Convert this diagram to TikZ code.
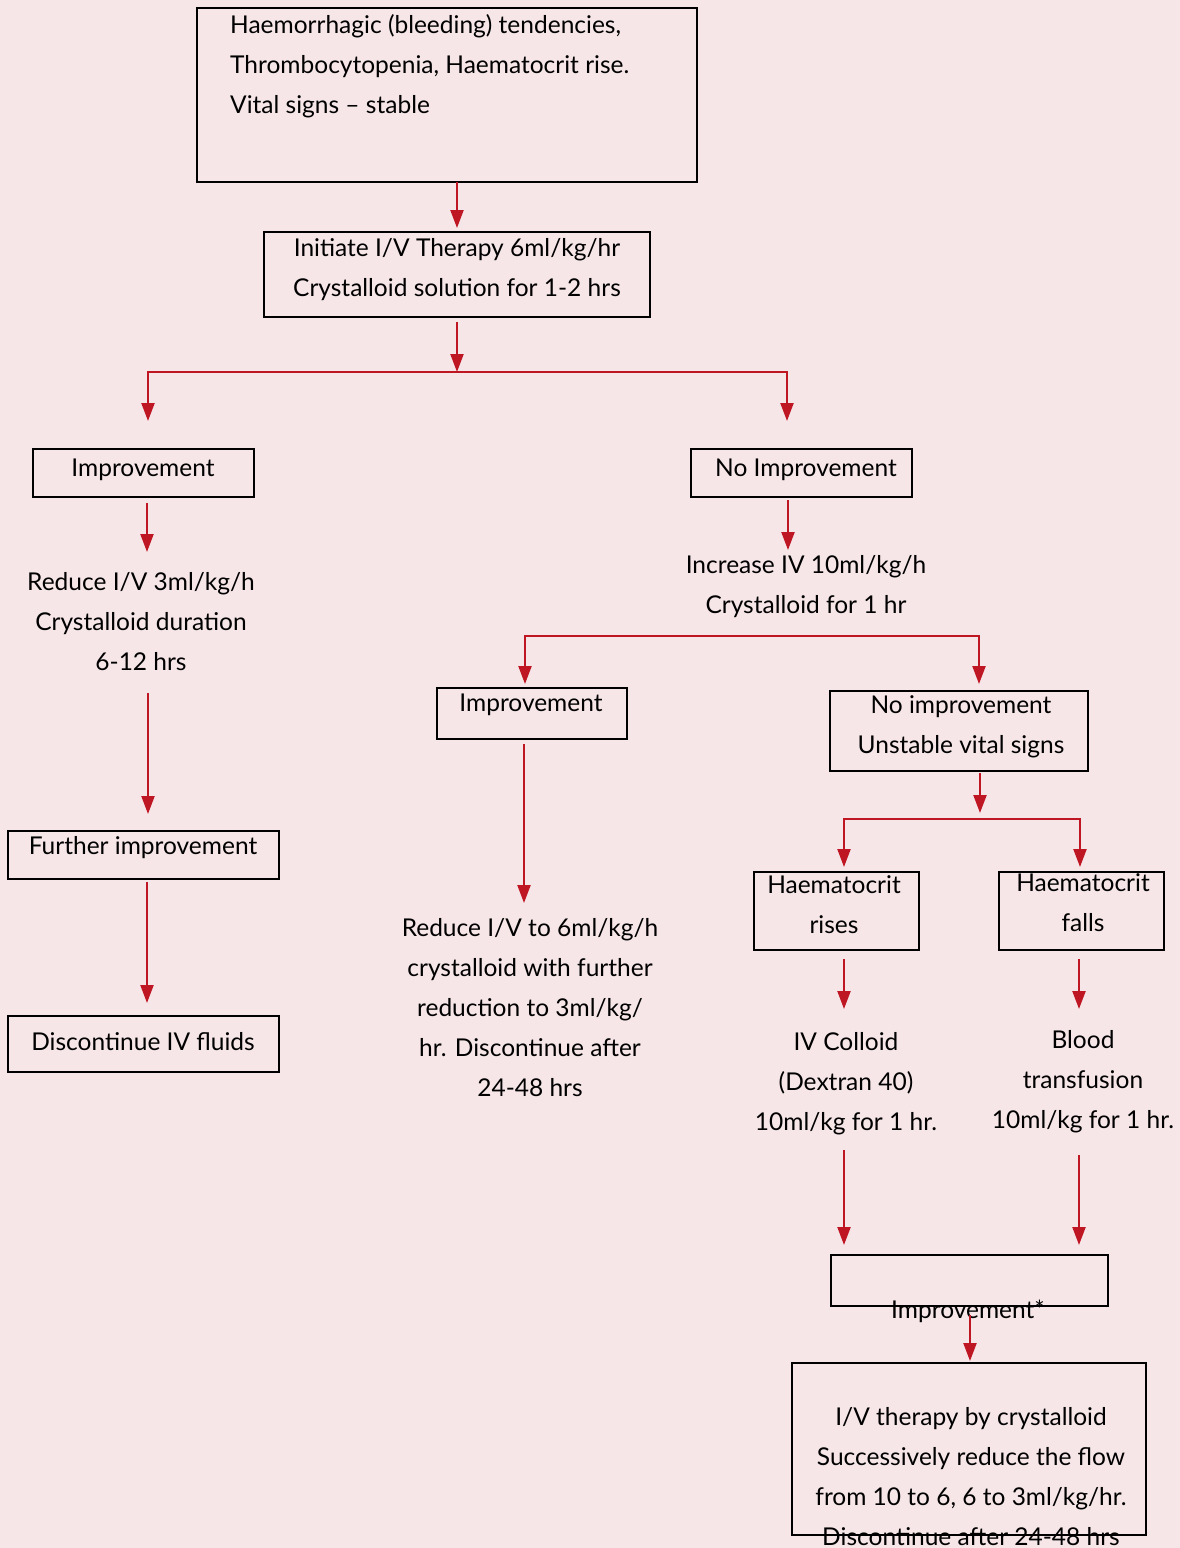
\documentclass[tikz,border=0pt]{standalone}
\usepackage{fontspec}
\setmainfont{Lato}
\usetikzlibrary{arrows.meta}
\definecolor{bgpink}{HTML}{F7E6E8}
\definecolor{flowred}{HTML}{BE1622}
\begin{document}
\begin{tikzpicture}[x=1pt,y=-1pt,
  box/.style={draw=black, line width=1.1pt, anchor=north west, inner sep=0pt, outer sep=0pt},
  txt/.style={font=\fontsize{24.5}{40}\selectfont, align=center, inner sep=0pt},
  tip/.tip={Triangle[length=18pt,width=13pt]},
  arr/.style={draw=flowred, line width=2.2pt, -tip},
  fork/.style={draw=flowred, line width=2.2pt, tip-tip}]
% page
\fill[bgpink] (0,0) rectangle (1180,1548);
\useasboundingbox (0,0) rectangle (1180,1548);

% top: presenting signs and first therapy
\node[box, minimum width=500pt, minimum height=174pt] (b1) at (197,8) {};
\node[txt, align=left, anchor=west] (t1) at (230,66)
  {Haemorrhagic (bleeding) tendencies,\\Thrombocytopenia, Haematocrit rise.\\Vital signs – stable};
\node[box, minimum width=386pt, minimum height=85pt] (b2) at (264,232) {};
\node[txt] (t2) at (457,270) {Initiate I/V Therapy 6ml/kg/hr\\Crystalloid solution for 1-2 hrs};
\draw[arr] (b1.south -| b2.north) -- ([yshift=4pt]b2.north);

% first fork
\coordinate (j1) at (457,372);
\coordinate (f1l) at (148,421);
\coordinate (f1r) at (787,421);
\draw[arr, shorten <=5pt] (b2.south) -- (j1);
\draw[fork] (f1l) |- (j1) -| (f1r);

% left branch: improvement
\node[box, minimum width=221pt, minimum height=48pt] (b3) at (33,449) {};
\node[txt] (t3) at (143,470) {Improvement};
\node[txt] (t5) at (141,622) {Reduce I/V 3ml/kg/h\\Crystalloid duration\\6-12 hrs};
\draw[arr] ([xshift=3.5pt,yshift=-6pt]b3.south) -- ++(0,49);
\node[box, minimum width=271pt, minimum height=48pt] (b6) at (8,831) {};
\node[txt] (t6) at (143,848) {Further improvement};
\draw[arr] ([xshift=7pt,yshift=-22pt]t5.south) -- ([xshift=4.5pt,yshift=17pt]b6.north);
\node[box, minimum width=271pt, minimum height=56pt] (b7) at (8,1016) {};
\node[txt] (t7) at (143,1042) {Discontinue IV fluids};
\draw[arr] ([xshift=3.5pt,yshift=-3pt]b6.south) -- ([xshift=3.5pt,yshift=13pt]b7.north);

% right branch: no improvement
\node[box, minimum width=221pt, minimum height=48pt] (b4) at (691,449) {};
\node[txt] (t4) at (806,470) {No Improvement};
\node[txt] (t8) at (806,587) {Increase IV 10ml/kg/h\\Crystalloid for 1 hr};
\draw[arr] ([xshift=-13.5pt,yshift=-3pt]b4.south) -- ++(0,50);

% second fork
\coordinate (j2) at (752,636);
\coordinate (f2l) at (525,684);
\coordinate (f2r) at (979,684);
\draw[fork] (f2l) |- (j2) -| (f2r);

\node[box, minimum width=190pt, minimum height=51pt] (b9) at (437,688) {};
\node[txt] (t9) at (531,705) {Improvement};
\node[txt] (t11) at (530,1008)
  {Reduce I/V to 6ml/kg/h\\crystalloid with further\\reduction to 3ml/kg/\\hr. Discontinue after\\24-48 hrs};
\draw[arr] ([xshift=-8pt,yshift=-5pt]b9.south) -- ++(0,159);

\node[box, minimum width=258pt, minimum height=80pt] (b10) at (830,691) {};
\node[txt] (t10) at (961,727) {No improvement\\Unstable vital signs};

% third fork
\coordinate (j3) at (980,819);
\coordinate (f3l) at (844,867);
\coordinate (f3r) at (1080,867);
\draw[arr, shorten <=2pt, shorten >=6pt] (b10.south -| j3) -- (j3);
\draw[fork] (f3l) |- (j3) -| (f3r);

\node[box, minimum width=165pt, minimum height=78pt] (b12) at (754,872) {};
\node[txt] (t12) at (834,905) {Haematocrit\\rises};
\node[box, minimum width=165pt, minimum height=78pt] (b13) at (999,872) {};
\node[txt] (t13) at (1083,903) {Haematocrit\\falls};

\node[txt] (t14) at (846,1084) {IV Colloid\\(Dextran 40)\\10ml/kg for 1 hr.};
\node[txt] (t15) at (1083,1082) {Blood\\transfusion\\10ml/kg for 1 hr.};
\draw[arr] ([xshift=7.5pt,yshift=-9pt]b12.south) -- ++(0,50);
\draw[arr] ([xshift=-2.5pt,yshift=-9pt]b13.south) -- ++(0,50);

% merge and final therapy
\node[box, minimum width=277pt, minimum height=51pt] (b16) at (831,1255) {};
\node[txt] (t16) at (968,1311) {Improvement*};
\coordinate (m1) at (844,1150);
\coordinate (m2) at (1079,1155);
\draw[arr] (m1) -- ([yshift=10pt]m1 |- b16.north);
\draw[arr] (m2) -- ([yshift=10pt]m2 |- b16.north);

\node[box, minimum width=354pt, minimum height=172pt] (b17) at (792,1363) {};
\node[txt] (t17) at (971,1476.5)
  {I/V therapy by crystalloid\\Successively reduce the flow\\from 10 to 6, 6 to 3ml/kg/hr.\\Discontinue after 24-48 hrs};
\coordinate (m3) at (970,1315);
\draw[arr] (m3) -- ([yshift=2pt]m3 |- b17.north);
\end{tikzpicture}
\end{document}
